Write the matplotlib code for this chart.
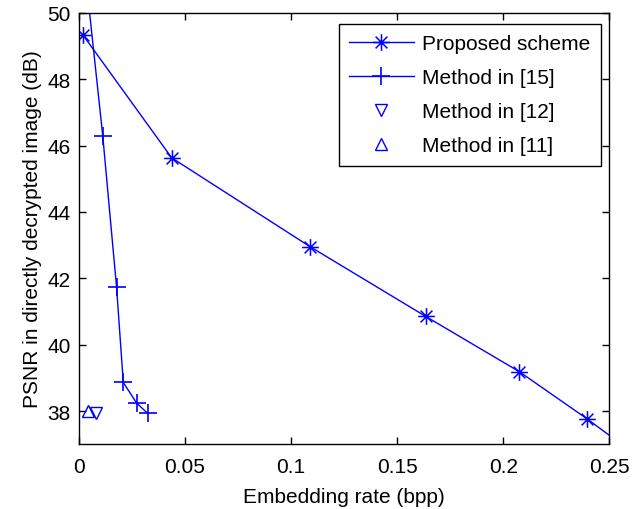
import matplotlib
matplotlib.use("Agg")
import matplotlib.pyplot as plt
from matplotlib.path import Path

plt.rcParams['font.family'] = ['Liberation Sans', 'DejaVu Sans']

# Data
prop_x = [0.0020, 0.0437, 0.1090, 0.1635, 0.2075, 0.2394, 0.2600]
prop_y = [49.32, 45.63, 42.95, 40.85, 39.19, 37.77, 36.80]
m15_x = [0.0030, 0.0112, 0.0177, 0.0209, 0.0272, 0.0324]
m15_y = [51.20, 46.30, 41.75, 38.86, 38.24, 37.93]
m12_x = [0.0080]
m12_y = [37.95]
m11_x = [0.0043]
m11_y = [38.00]
xticks = [0, 0.05, 0.1, 0.15, 0.2, 0.25]
xticklabels = ['0', '0.05', '0.1', '0.15', '0.2', '0.25']
yticks = [38, 40, 42, 44, 46, 48, 50]

# MATLAB-style asterisk marker (+ and x combined)
d = 0.7071
ast_verts = [(-1, 0), (1, 0), (0, -1), (0, 1), (-d, -d), (d, d), (-d, d), (d, -d)]
ast_codes = [Path.MOVETO, Path.LINETO] * 4
asterisk = Path(ast_verts, ast_codes)

blue = '#0000ff'
fs = 15
fig = plt.figure(figsize=(6.42, 5.10), dpi=100)
ax = fig.add_axes([0.123, 0.127, 0.826, 0.846])

ax.plot(prop_x, prop_y, color=blue, lw=1.0, marker=asterisk, ms=12, mew=1.1,
        label='Proposed scheme')
ax.plot(m15_x, m15_y, color=blue, lw=1.0, marker='+', ms=13, mew=1.2,
        label='Method in [15]')
ax.plot(m12_x, m12_y, linestyle='none', color=blue, marker='v', ms=9,
        mfc='none', mew=1.0, label='Method in [12]')
ax.plot(m11_x, m11_y, linestyle='none', color=blue, marker='^', ms=9,
        mfc='none', mew=1.0, label='Method in [11]')

ax.set_xlim(0, 0.25)
ax.set_ylim(37, 50)
ax.set_xticks(xticks)
ax.set_xticklabels(xticklabels)
ax.set_yticks(yticks)
ax.tick_params(direction='in', top=True, right=True, length=5, width=1,
               labelsize=fs)
ax.tick_params(axis='x', pad=9)
ax.tick_params(axis='y', pad=6)
for s in ax.spines.values():
    s.set_linewidth(1.0)

ax.set_xlabel('Embedding rate (bpp)', fontsize=fs, labelpad=8)
ax.set_ylabel('PSNR in directly decrypted image (dB)', fontsize=fs, labelpad=4)

leg = ax.legend(loc='upper right', bbox_to_anchor=(0.984, 0.9745),
                borderaxespad=0, fontsize=fs, handlelength=3.1,
                fancybox=False, framealpha=1, edgecolor='black',
                labelspacing=0.72, handletextpad=0.4, borderpad=0.5)
leg.get_frame().set_linewidth(1.0)

fig.savefig('out.png', dpi=100)
